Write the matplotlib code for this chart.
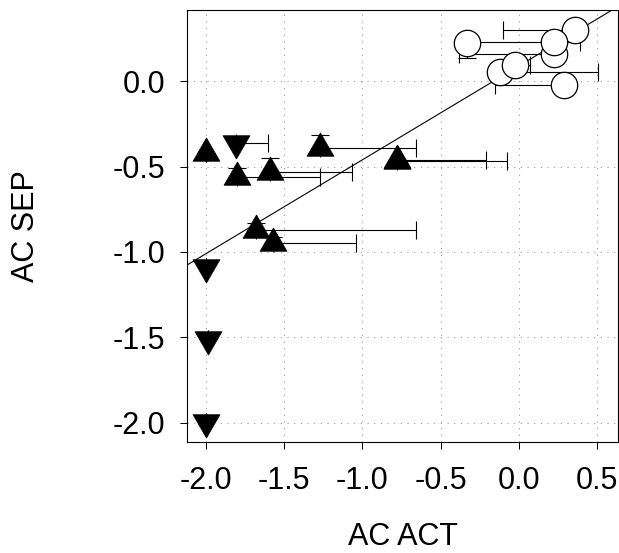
import numpy as np
import matplotlib
matplotlib.use("Agg")
import matplotlib.pyplot as plt

plt.rcParams['font.family'] = ['Liberation Sans', 'DejaVu Sans']

# ---- data ----
# filled up-triangles: x, y, rightward x error, upward y error
up_x = [-2.00, -1.271, -0.781, -0.776, -1.799, -1.591, -1.680, -1.570]
up_y = [-0.420, -0.391, -0.461, -0.467, -0.561, -0.529, -0.872, -0.950]
up_xerr_hi = [0.0, 0.612, 0.569, 0.703, 0.528, 0.523, 1.021, 0.529]
up_yerr_hi = [0.0, 0.076, 0.0, 0.0, 0.051, 0.081, 0.043, 0.039]

# filled down-triangles
dn_x = [-1.808, -2.00, -1.99, -2.00]
dn_y = [-0.360, -1.089, -1.509, -1.999]
dn_xerr_hi = [0.206, 0.0, 0.0, 0.0]

# open circles: x, y, left x error, right x error, downward y error
ci_x = [0.359, 0.225, 0.225, -0.120, -0.027, 0.289, -0.331]
ci_y = [0.302, 0.162, 0.229, 0.052, 0.093, -0.019, 0.223]
ci_xerr_lo = [0.462, 0.605, 0.605, 0.0, 0.0, 0.441, 0.0]
ci_xerr_hi = [0.0, 0.0, 0.166, 0.628, 0.099, 0.0, 0.0]
ci_yerr_lo = [0.0, 0.0, 0.0, 0.0, 0.0, 0.0, 0.085]

# regression line
reg_intercept = 0.090
reg_slope = 0.550

x_ticks = [-2.0, -1.5, -1.0, -0.5, 0.0, 0.5]
y_ticks = [-2.0, -1.5, -1.0, -0.5, 0.0]
xlabel = "AC ACT"
ylabel = "AC SEP"

# ---- figure ----
W, H = 619, 553
fig = plt.figure(figsize=(W / 100, H / 100), dpi=100)
ax = fig.add_axes([187 / W, 1 - 442 / H, (618 - 187) / W, (442 - 10) / H])
xlim = (-2.1215, 0.634)
ylim = (-2.114, 0.418)
ax.set_xlim(*xlim)
ax.set_ylim(*ylim)

# centroid-centred triangles (SigmaPlot style)
tri_up = [(0, 1), (-0.8660, -0.5), (0.8660, -0.5), (0, 1)]
tri_dn = [(0, -1), (-0.8660, 0.5), (0.8660, 0.5), (0, -1)]

ax.grid(True, color='#9a9a9a', linestyle=(0, (1, 5)), linewidth=0.8, zorder=0)

# regression line
xs = np.array(xlim)
ax.plot(xs, reg_intercept + reg_slope * xs, color='black', lw=0.8, zorder=2)

eb = dict(fmt='none', ecolor='black', elinewidth=0.8, capsize=6.8, capthick=0.8, zorder=3)
z = np.zeros
ax.errorbar(up_x, up_y, xerr=[z(len(up_x)), up_xerr_hi], yerr=[z(len(up_x)), up_yerr_hi], **eb)
ax.errorbar(dn_x, dn_y, xerr=[z(len(dn_x)), dn_xerr_hi], **eb)
ax.errorbar(ci_x, ci_y, xerr=[ci_xerr_lo, ci_xerr_hi], yerr=[ci_yerr_lo, z(len(ci_x))], **eb)

ax.plot(up_x, up_y, linestyle='none', marker=tri_up, markersize=22.4,
        markerfacecolor='black', markeredgecolor='black', markeredgewidth=0.5, zorder=5)
ax.plot(dn_x, dn_y, linestyle='none', marker=tri_dn, markersize=22.4,
        markerfacecolor='black', markeredgecolor='black', markeredgewidth=0.5, zorder=5)
for cx, cy in zip(ci_x, ci_y):
    ax.plot([cx], [cy], linestyle='none', marker='o', markersize=19.0,
            markerfacecolor='white', markeredgecolor='black', markeredgewidth=0.9, zorder=5)

ax.set_xticks(x_ticks)
ax.set_yticks(y_ticks)
ax.set_xticklabels([f"{v:.1f}" for v in x_ticks])
ax.set_yticklabels([f"{v:.1f}" for v in y_ticks])
ax.tick_params(axis='both', direction='out', length=5, width=0.75, labelsize=22,
               top=False, right=False)
ax.tick_params(axis='x', pad=12)
ax.tick_params(axis='y', pad=10.5)
for s in ax.spines.values():
    s.set_linewidth(0.8)
    s.set_color('black')

ax.set_xlabel(xlabel, fontsize=22)
ax.set_ylabel(ylabel, fontsize=22)
ax.xaxis.set_label_coords(0.5, -0.185)
ax.yaxis.set_label_coords(-0.338, 0.5)

fig.savefig("out.png", dpi=100)
